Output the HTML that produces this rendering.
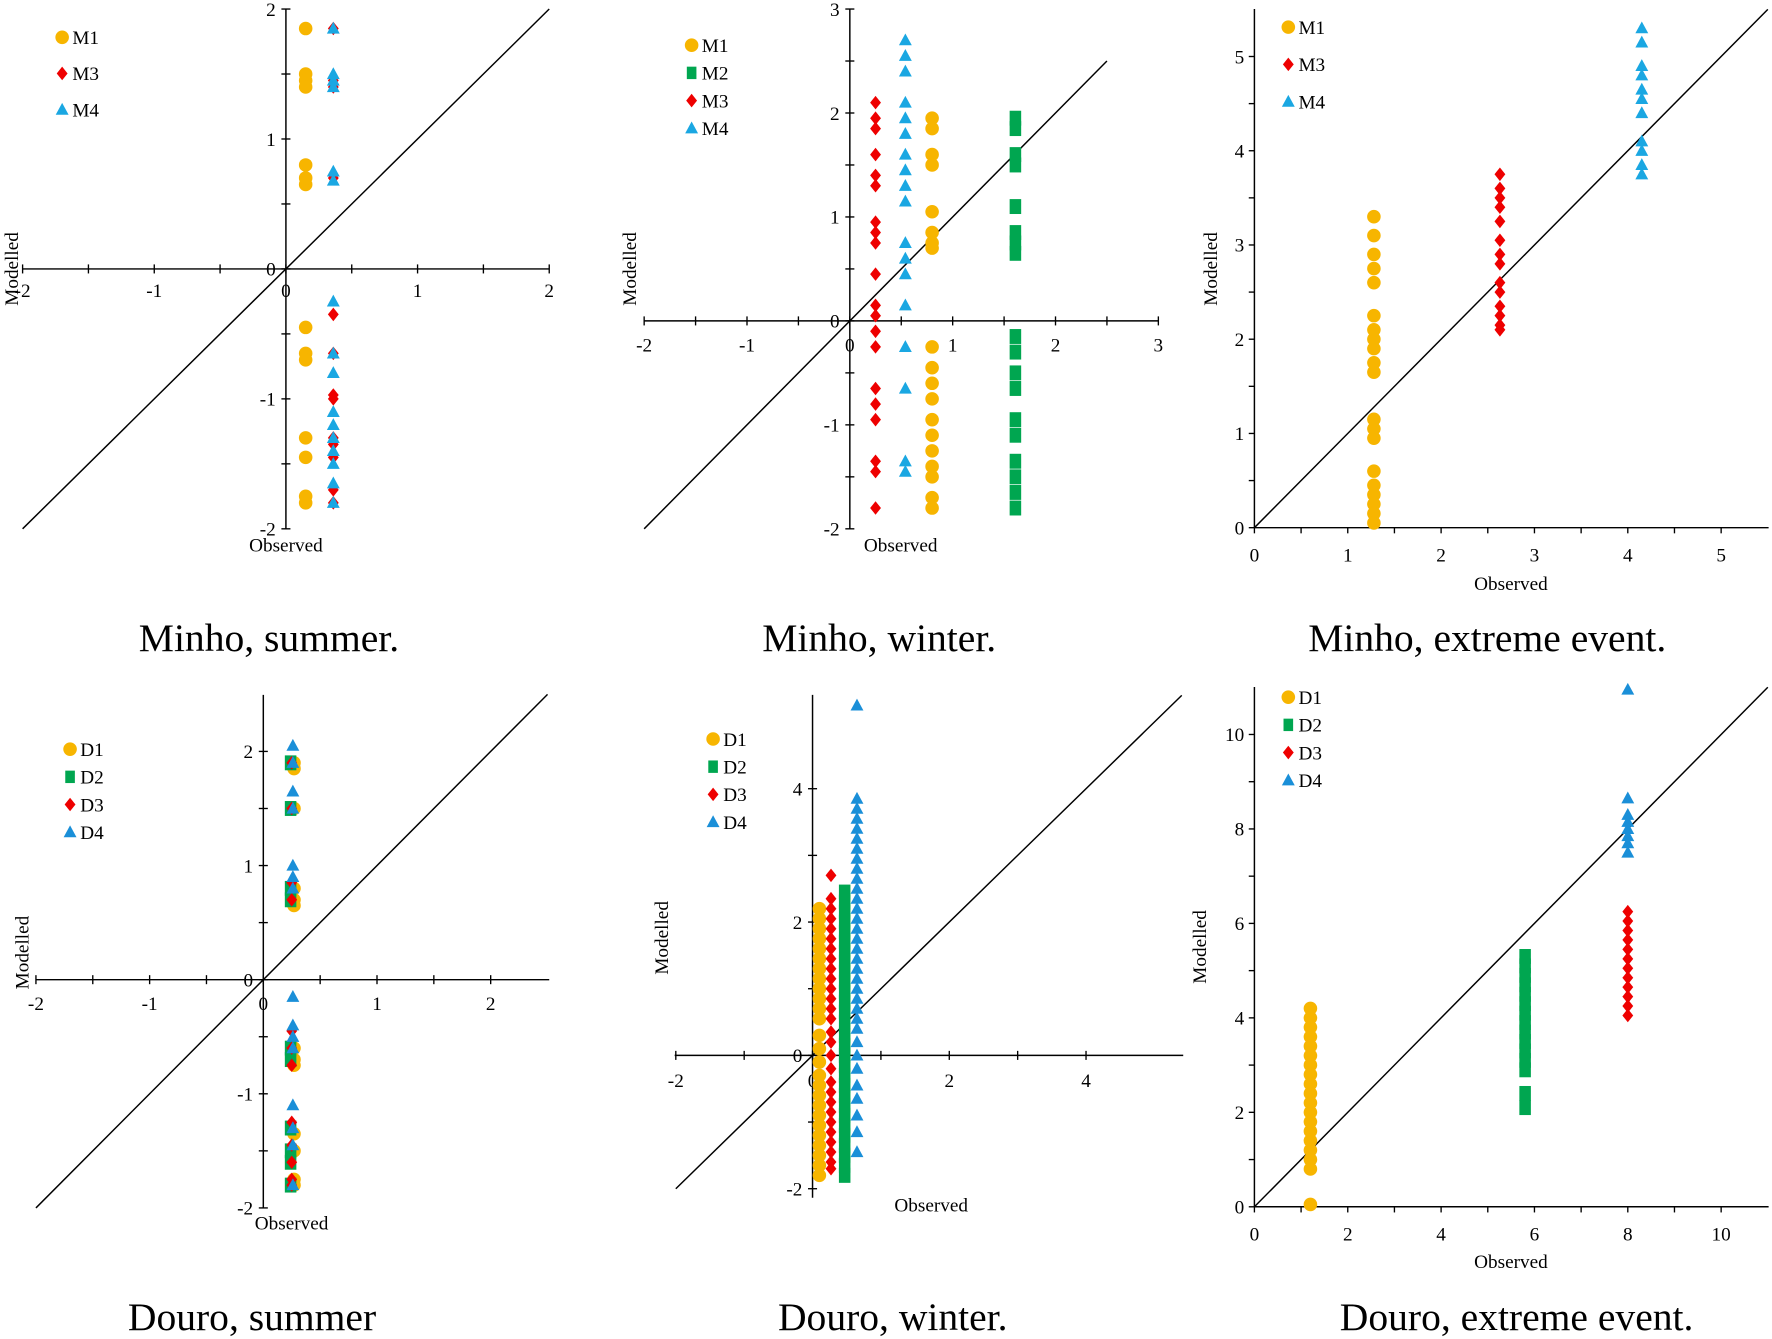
<!DOCTYPE html>
<html><head><meta charset="utf-8">
<style>
html,body{margin:0;padding:0;background:#fff;}
svg{display:block;font-family:"Liberation Serif",serif;}
</style></head>
<body>
<svg id="fig" width="1772" height="1339" viewBox="0 0 1568 1185" preserveAspectRatio="none" xmlns="http://www.w3.org/2000/svg">
<rect width="1568" height="1185" fill="#fff"/>
<text x="238" y="576" font-size="35" text-anchor="middle">Minho, summer.</text>
<text x="778" y="576" font-size="35" text-anchor="middle">Minho, winter.</text>
<text x="1316" y="576" font-size="35" text-anchor="middle">Minho, extreme event.</text>
<text x="223" y="1177" font-size="35" text-anchor="middle">Douro, summer</text>
<text x="790" y="1177" font-size="35" text-anchor="middle">Douro, winter.</text>
<text x="1342" y="1177" font-size="35" text-anchor="middle">Douro, extreme event.</text>
</svg>
<script>
// ---- data ----
const p1M1 = [1.85,1.5,1.45,1.4,0.8,0.65,0.7,-0.45,-0.65,-0.7,-1.3,-1.45,-1.75,-1.8];
const p1M3 = [1.85,1.45,1.4,0.7,-0.35,-0.65,-1.0,-0.97,-1.3,-1.45,-1.35,-1.7,-1.8];
const p1M4 = [1.85,1.5,1.45,1.4,0.75,0.68,-0.25,-0.65,-0.8,-1.1,-1.2,-1.3,-1.4,-1.5,-1.65,-1.8];
const p2M1 = [1.95,1.85,1.6,1.5,1.05,0.85,0.75,0.7,-0.25,-0.45,-0.6,-0.75,-0.95,-1.1,-1.25,-1.4,-1.5,-1.7,-1.8];
const p2M2 = [1.95,1.85,1.6,1.5,1.1,0.85,0.75,0.65,-0.15,-0.3,-0.5,-0.65,-0.95,-1.1,-1.35,-1.5,-1.65,-1.8];
const p2M3 = [2.1,1.95,1.85,1.6,1.4,1.3,0.95,0.85,0.75,0.45,0.15,0.05,-0.1,-0.25,-0.65,-0.8,-0.95,-1.35,-1.45,-1.8];
const p2M4 = [2.7,2.55,2.4,2.1,1.95,1.8,1.6,1.45,1.3,1.15,0.75,0.6,0.45,0.15,-0.25,-0.65,-1.35,-1.45];
const p3M1 = [3.3,3.1,2.9,2.75,2.6,2.25,2.1,2.0,1.9,1.75,1.65,1.15,1.05,0.95,0.6,0.45,0.35,0.25,0.15,0.05];
const p3M3 = [3.75,3.6,3.5,3.4,3.25,3.05,2.9,2.8,2.6,2.5,2.35,2.25,2.15,2.1];
const p3M4 = [5.3,5.15,4.9,4.8,4.65,4.55,4.4,4.1,4.0,3.85,3.75];
const p4D1 = [1.9,1.85,1.5,0.8,0.7,0.65,-0.6,-0.7,-0.75,-1.35,-1.5,-1.75,-1.8];
const p4D2 = [1.9,1.5,0.8,0.7,-0.6,-0.7,-1.3,-1.5,-1.6,-1.8];
const p4D3 = [1.9,1.5,0.85,0.7,-0.45,-0.6,-0.75,-1.25,-1.45,-1.6,-1.75,-1.8];
const p4D4 = [2.05,1.9,1.65,1.5,1.0,0.9,0.8,-0.15,-0.4,-0.5,-0.6,-1.1,-1.3,-1.45,-1.8];
const p5D1 = [2.2,2.05,1.9,1.75,1.6,1.45,1.3,1.15,1.0,0.85,0.7,0.55,0.3,0.1,-0.1,-0.3,-0.45,-0.6,-0.75,-0.9,-1.05,-1.2,-1.35,-1.5,-1.65,-1.8];
const p5D2 = [2.45,2.3,2.15,2.0,1.85,1.7,1.55,1.4,1.25,1.1,0.95,0.8,0.65,0.5,0.3,0.15,0.0,-0.15,-0.3,-0.45,-0.6,-0.75,-0.9,-1.05,-1.2,-1.35,-1.5,-1.65,-1.8];
const p5D3 = [2.7,2.35,2.2,2.05,1.9,1.75,1.6,1.45,1.3,1.15,1.0,0.85,0.7,0.55,0.35,0.2,0.0,-0.2,-0.4,-0.55,-0.7,-0.85,-1.0,-1.15,-1.3,-1.45,-1.6,-1.7];
const p5D4 = [5.25,3.85,3.7,3.55,3.4,3.25,3.1,2.95,2.8,2.65,2.5,2.35,2.2,2.05,1.9,1.75,1.6,1.45,1.3,1.15,1.0,0.85,0.7,0.55,0.4,0.2,0.0,-0.2,-0.45,-0.65,-0.9,-1.15,-1.45];
const p6D1 = [4.2,4.0,3.8,3.6,3.4,3.2,3.0,2.8,2.6,2.4,2.2,2.0,1.8,1.6,1.4,1.2,1.0,0.8,0.05];
const p6D2 = [5.3,5.1,4.9,4.7,4.5,4.3,4.1,3.9,3.7,3.5,3.3,3.1,2.9,2.4,2.1];
const p6D3 = [6.25,6.05,5.85,5.65,5.45,5.25,5.05,4.85,4.65,4.45,4.25,4.05];
const p6D4 = [10.95,8.65,8.3,8.15,8.0,7.85,7.7,7.5];
const ticks1 = [-2,-1,0,1,2];
const ticks2 = [-2,-1,0,1,2,3];
const ticks3 = [0,1,2,3,4,5];
const ticks4 = [-2,-1,0,1,2];
const ticks5x = [-2,0,2,4];
const ticks5y = [-2,0,2,4];
const ticks6 = [0,2,4,6,8,10];

const YEL="#F7B500", GRN="#00A650", RED="#EE0000", BLU="#1AA7E2", BLU2="#1A8FD8";
const NS="http://www.w3.org/2000/svg";
const svg=document.getElementById('fig');
function mk(tag,attrs,parent){const e=document.createElementNS(NS,tag);for(const k in attrs)e.setAttribute(k,attrs[k]);(parent||svg).appendChild(e);return e;}

function marker(g,shape,color,cx,cy,s){
  let e;
  if(shape==='circle') e=mk('circle',{cx:cx,cy:cy,r:s*1.0,fill:color},g);
  else if(shape==='square') e=mk('rect',{x:cx-s*0.85,y:cy-s*1.1,width:s*1.7,height:s*2.2,fill:color},g);
  else if(shape==='diamond') e=mk('polygon',{points:`${cx},${cy-s} ${cx+s*0.8},${cy} ${cx},${cy+s} ${cx-s*0.8},${cy}`,fill:color},g);
  else e=mk('polygon',{points:`${cx},${cy-s} ${cx+s*0.95},${cy+s*0.75} ${cx-s*0.95},${cy+s*0.75}`,fill:color},g);
  return e;
}

function panel(p){
  const g=mk('g',{});
  
  
  const X=v=>p.x0+v*p.kx, Y=v=>p.y0-v*p.ky;
  // axes
  const xa=mk('line',{x1:p.xmin,y1:Y(0),x2:p.xmax,y2:Y(0),stroke:'#000','stroke-width':1.3},g);
  
  
  const ya=mk('line',{x1:X(0),y1:p.ymin,x2:X(0),y2:p.ymax,stroke:'#000','stroke-width':1.3},g);
  
  
  // ticks
  const tick=p.cross?4:5;
  const xs=p.xticks, ys=p.yticks;
  for(let i=0;i<xs.length;i++){
    const v=xs[i];
    mk('line',{x1:X(v),y1:Y(0)-(p.cross?tick:0),x2:X(v),y2:Y(0)+tick,stroke:'#000','stroke-width':1.2},g);
    if(i<xs.length-1){const m=(v+xs[i+1])/2;mk('line',{x1:X(m),y1:Y(0)-(p.cross?tick:0),x2:X(m),y2:Y(0)+tick,stroke:'#000','stroke-width':1.2},g);}
    const t=mk('text',{x:X(v),y:Y(0)+p.xlabOff,'font-size':17,'text-anchor':'middle'},g);
    t.textContent=v;
    
    
  }
  for(let i=0;i<ys.length;i++){
    const v=ys[i];
    mk('line',{x1:X(0)-tick,y1:Y(v),x2:X(0)+(p.cross?tick:0),y2:Y(v),stroke:'#000','stroke-width':1.2},g);
    if(i<ys.length-1){const m=(v+ys[i+1])/2;mk('line',{x1:X(0)-tick,y1:Y(m),x2:X(0)+(p.cross?tick:0),y2:Y(m),stroke:'#000','stroke-width':1.2},g);}
    if(v===0 && p.cross) continue;
    const t=mk('text',{x:X(0)-9,y:Y(v)+6,'font-size':17,'text-anchor':'end'},g);
    t.textContent=v;
    
    
  }
  if(p.cross){const t=mk('text',{x:X(0)-9,y:Y(0)+6,'font-size':17,'text-anchor':'end'},g);t.textContent='0';}
  // diagonal
  const d=mk('line',{x1:X(p.d0),y1:Y(p.d0),x2:X(p.d1),y2:Y(p.d1),stroke:'#000','stroke-width':1.3},g);
  
  
  // axis titles
  const ot=mk('text',{x:p.obs[0],y:p.obs[1],'font-size':17,'text-anchor':'middle'},g);
  ot.textContent='Observed';
  
  
  const mt=mk('text',{x:0,y:0,'font-size':17,'text-anchor':'middle',transform:`translate(${p.mod[0]},${p.mod[1]}) rotate(-90)`},g);
  mt.textContent='Modelled';
  
  
  // series
  p.series.forEach((s,si)=>{
    const sg=mk('g',{},g);
    
    
    s.ys.forEach(v=>{
      const m=marker(sg,s.shape,s.color,X(s.x),Y(v),6);
      
      
    });
    const lg=mk('g',{},g);
    
    
    const ly=p.leg[1]+si*p.leg[2];
    marker(lg,s.shape,s.color,p.leg[0],ly,s.shape==='square'?5:6);
    const lt=mk('text',{x:p.leg[0]+9,y:ly+6,'font-size':17},lg);
    lt.textContent=s.label;
  });
}

panel({name:'chart-minho-summer',x0:253,kx:116.5,y0:238,ky:115,xmin:20,xmax:486,ymin:8,ymax:468,
  xticks:ticks1,yticks:ticks1,cross:true,xlabOff:25,d0:-2,d1:2,obs:[253,488],mod:[16,238],leg:[55,33,32],
  series:[{label:'M1',color:YEL,shape:'circle',x:0.15,ys:p1M1},{label:'M3',color:RED,shape:'diamond',x:0.36,ys:p1M3},{label:'M4',color:BLU,shape:'triangle',x:0.36,ys:p1M4}]});
panel({name:'chart-minho-winter',x0:752,kx:91,y0:284,ky:92,xmin:570,xmax:1025,ymin:8,ymax:468,
  xticks:ticks2,yticks:ticks2,cross:true,xlabOff:27,d0:-2,d1:2.5,obs:[797,488],mod:[563,238],leg:[612,40,24.5],
  series:[{label:'M1',color:YEL,shape:'circle',x:0.8,ys:p2M1},{label:'M2',color:GRN,shape:'square',x:1.61,ys:p2M2},{label:'M3',color:RED,shape:'diamond',x:0.25,ys:p2M3},{label:'M4',color:BLU,shape:'triangle',x:0.54,ys:p2M4}]});
panel({name:'chart-minho-extreme',x0:1110,kx:82.6,y0:467,ky:83.4,xmin:1110,xmax:1565,ymin:8,ymax:467,
  xticks:ticks3,yticks:ticks3,cross:false,xlabOff:30,d0:0,d1:5.5,obs:[1337,522],mod:[1077,238],leg:[1140,24,33],
  series:[{label:'M1',color:YEL,shape:'circle',x:1.28,ys:p3M1},{label:'M3',color:RED,shape:'diamond',x:2.63,ys:p3M3},{label:'M4',color:BLU,shape:'triangle',x:4.15,ys:p3M4}]});
panel({name:'chart-douro-summer',x0:233,kx:100.6,y0:867,ky:101,xmin:32,xmax:486,ymin:615,ymax:1069,
  xticks:ticks4,yticks:ticks4,cross:true,xlabOff:27,d0:-2,d1:2.5,obs:[258,1088],mod:[25,843],leg:[62,663,24.5],
  series:[{label:'D1',color:YEL,shape:'circle',x:0.27,ys:p4D1},{label:'D2',color:GRN,shape:'square',x:0.24,ys:p4D2},{label:'D3',color:RED,shape:'diamond',x:0.25,ys:p4D3},{label:'D4',color:BLU2,shape:'triangle',x:0.26,ys:p4D4}]});
panel({name:'chart-douro-winter',x0:719,kx:60.5,y0:934,ky:59,xmin:597,xmax:1047,ymin:615,ymax:1060,
  xticks:ticks5x,yticks:ticks5y,cross:true,xlabOff:28,d0:-2,d1:5.4,obs:[824,1072],mod:[591,830],leg:[631,654,24.5],
  series:[{label:'D1',color:YEL,shape:'circle',x:0.1,ys:p5D1},{label:'D2',color:GRN,shape:'square',x:0.47,ys:p5D2},{label:'D3',color:RED,shape:'diamond',x:0.27,ys:p5D3},{label:'D4',color:BLU2,shape:'triangle',x:0.65,ys:p5D4}]});
panel({name:'chart-douro-extreme',x0:1110,kx:41.3,y0:1068,ky:41.8,xmin:1110,xmax:1565,ymin:608,ymax:1068,
  xticks:ticks6,yticks:ticks6,cross:false,xlabOff:30,d0:0,d1:11,obs:[1337,1122],mod:[1067,838],leg:[1140,617,24.5],
  series:[{label:'D1',color:YEL,shape:'circle',x:1.2,ys:p6D1},{label:'D2',color:GRN,shape:'square',x:5.8,ys:p6D2},{label:'D3',color:RED,shape:'diamond',x:8.0,ys:p6D3},{label:'D4',color:BLU2,shape:'triangle',x:8.0,ys:p6D4}]});
</script>
</body></html>
